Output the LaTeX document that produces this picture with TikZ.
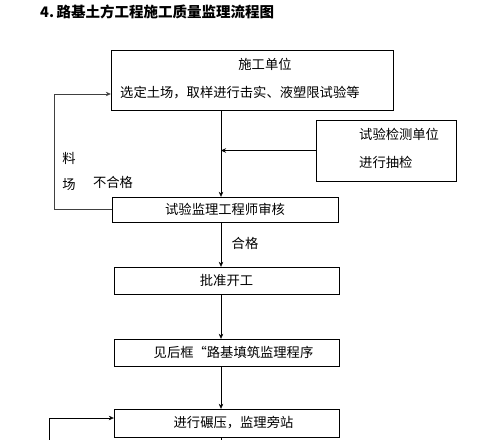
\documentclass[tikz,border=0pt]{standalone}
\usepackage{fontspec}
\newfontfamily\cjk{Noto Sans CJK SC}
\usepackage{tikz}
\usetikzlibrary{arrows.meta,positioning}
\tikzset{
  box/.style={draw=black, thin, inner sep=0pt, font=\cjk\fontsize{13.3}{15}\selectfont, align=center},
  txt/.style={inner sep=0pt, font=\cjk\fontsize{13.3}{15}\selectfont},
  flow/.style={-{Stealth[length=5pt,width=4.5pt]}, black, thin},
  loopline/.style={-{Stealth[length=5pt,width=4.5pt]}, black!75, semithick},
}

\begin{document}
\begin{tikzpicture}[x=1pt,y=-1pt]
    \useasboundingbox (0,0) rectangle (503,439);
    \node[txt, font=\cjk\bfseries\fontsize{14.5}{16}\selectfont, anchor=west] (title) at (40,12) {4.\,路基土方工程施工质量监理流程图};
    % main column
    \node[box, minimum width=282, minimum height=60] (sgdw) at (252,80) {};
    \node[txt] (sgdwt) at (265,64) {施工单位};
    \node[txt, anchor=west] (sgdwb) at (120,93) {选定土场，取样进行击实、液塑限试验等};
    \node[box, minimum width=140, minimum height=61] (jcdw) at (386,150.5) {};
    \node[txt, anchor=west] (jcdwt) at (359,134) {试验检测单位};
    \node[txt, anchor=west] (jcdwb) at (359,162) {进行抽检};
    \node[box, minimum width=226, minimum height=25] (shenhe) at (225,209.5) {试验监理工程师审核};
    \node[box, minimum width=225, minimum height=27] (kaigong) at (226.5,280.5) {批准开工};
    \node[box, minimum width=225, minimum height=27] (tianzhu) at (226.5,352.5) {\hspace*{14pt}见后框“路基填筑监理程序};
    \node[box, minimum width=225, minimum height=28] (nianya) at (226.5,423) {\hspace*{14pt}进行碾压，监理旁站};
    \coordinate (axis) at (221,0);
    \draw[flow] (axis |- sgdw.south) -- (axis |- shenhe.north);
    \draw[flow] (jcdw.west) -- (axis |- jcdw.west);
    \draw[flow] (axis |- shenhe.south) -- (axis |- kaigong.north);
    \draw[flow] (axis |- kaigong.south) -- (axis |- tianzhu.north);
    \draw[flow] (axis |- tianzhu.south) -- (axis |- nianya.north);
    \draw[thin] (axis |- nianya.south) -- ++(0,4);
    % return loops
    \coordinate (lp1) at (54,94);
    \draw[loopline] (shenhe.west) -| (lp1) -- (sgdw.west |- lp1);
    \coordinate (lp2) at (49,441);
    \draw[flow] (lp2) |- ([yshift=5pt]nianya.west);
    \node[txt] (liao) at (69,158) {料};
    \node[txt] (chang) at (69,185) {场};
    \node[txt] (bhg) at (113,182) {不合格};
    \node[txt] (hg) at (245,243) {合格};
\end{tikzpicture}
\end{document}
